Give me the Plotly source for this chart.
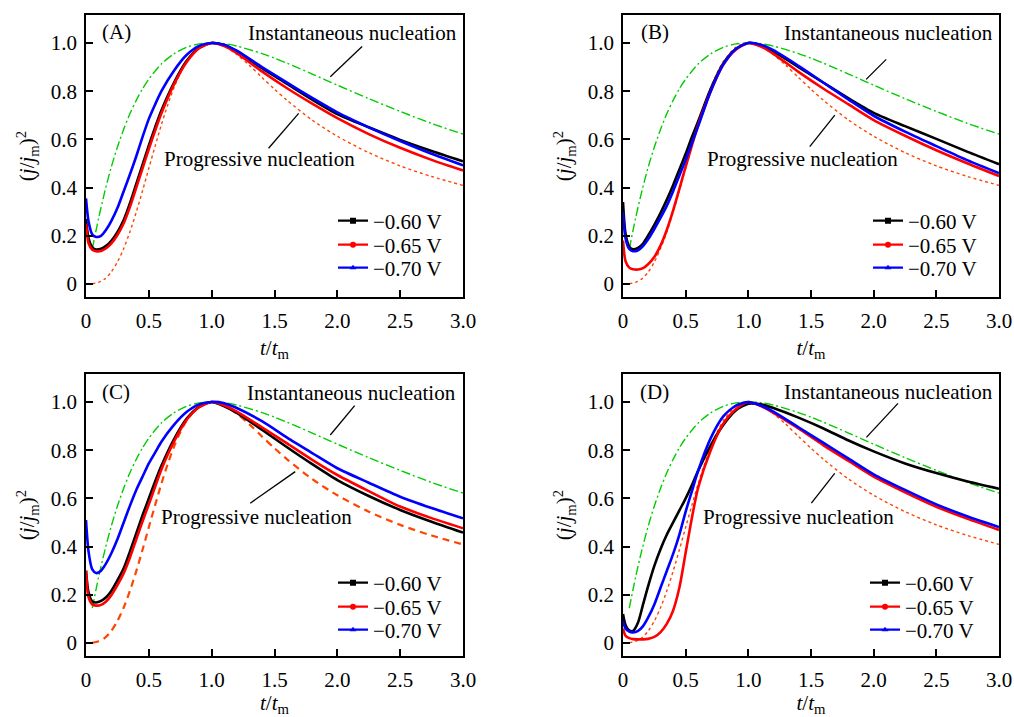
import plotly.graph_objects as go

# ---------------- data ----------------
T = [0, 0.02, 0.05, 0.08, 0.12, 0.16, 0.2, 0.25, 0.3, 0.35, 0.4, 0.45, 0.5, 0.55,
     0.6, 0.7, 0.8, 0.9, 1.0, 1.1, 1.2, 1.4, 1.6, 1.8, 2.0, 2.25, 2.5, 2.75, 3.0]

A_BLACK = [0.27, 0.19, 0.152, 0.143, 0.146, 0.158, 0.178, 0.215, 0.265, 0.335, 0.415, 0.495, 0.575, 0.65,
           0.72, 0.835, 0.925, 0.98, 1.0, 0.99, 0.965, 0.895, 0.83, 0.765, 0.705, 0.65, 0.598, 0.552, 0.509]
A_RED = [0.25, 0.17, 0.142, 0.136, 0.137, 0.148, 0.167, 0.203, 0.252, 0.32, 0.4, 0.48, 0.56, 0.636,
         0.708, 0.828, 0.92, 0.978, 1.0, 0.987, 0.958, 0.882, 0.812, 0.748, 0.688, 0.622, 0.565, 0.515, 0.471]
A_BLUE = [0.355, 0.26, 0.205, 0.195, 0.2, 0.225, 0.26, 0.315, 0.385, 0.455, 0.53, 0.61, 0.685, 0.745,
          0.8, 0.885, 0.95, 0.988, 1.0, 0.993, 0.968, 0.9, 0.835, 0.772, 0.712, 0.65, 0.593, 0.54, 0.492]

B_BLACK = [0.34, 0.21, 0.155, 0.144, 0.15, 0.168, 0.2, 0.245, 0.295, 0.35, 0.41, 0.475, 0.54, 0.61,
           0.675, 0.81, 0.915, 0.975, 1.0, 0.99, 0.965, 0.9, 0.835, 0.77, 0.71, 0.655, 0.602, 0.548, 0.497]
B_RED = [0.18, 0.095, 0.068, 0.061, 0.06, 0.066, 0.082, 0.112, 0.16, 0.225, 0.305, 0.395, 0.487, 0.575,
         0.66, 0.8, 0.91, 0.972, 1.0, 0.985, 0.955, 0.88, 0.81, 0.745, 0.68, 0.615, 0.555, 0.5, 0.448]
B_BLUE = [0.3, 0.19, 0.145, 0.136, 0.14, 0.157, 0.185, 0.228, 0.275, 0.325, 0.385, 0.45, 0.515, 0.585,
          0.655, 0.8, 0.91, 0.975, 1.0, 0.993, 0.97, 0.905, 0.835, 0.765, 0.698, 0.632, 0.572, 0.513, 0.46]

C_BLACK = [0.3, 0.21, 0.172, 0.168, 0.175, 0.19, 0.215, 0.26, 0.31, 0.38, 0.455, 0.53, 0.6, 0.67,
           0.735, 0.845, 0.93, 0.98, 1.0, 0.982, 0.955, 0.885, 0.812, 0.742, 0.676, 0.61, 0.552, 0.503, 0.458]
C_RED = [0.3, 0.19, 0.16, 0.155, 0.158, 0.172, 0.197, 0.24, 0.29, 0.355, 0.43, 0.505, 0.575, 0.648,
         0.72, 0.835, 0.925, 0.978, 1.0, 0.985, 0.96, 0.895, 0.828, 0.76, 0.697, 0.63, 0.566, 0.518, 0.476]
C_BLUE = [0.51, 0.38, 0.305, 0.29, 0.3, 0.33, 0.37, 0.43, 0.5, 0.57, 0.635, 0.69, 0.745, 0.79,
          0.835, 0.905, 0.958, 0.99, 1.0, 0.995, 0.975, 0.92, 0.852, 0.788, 0.725, 0.665, 0.607, 0.56, 0.517]

D_BLACK = [0.12, 0.075, 0.052, 0.05, 0.085, 0.16, 0.235, 0.32, 0.39, 0.45, 0.5, 0.55, 0.6, 0.655,
           0.715, 0.82, 0.905, 0.965, 0.993, 0.99, 0.975, 0.935, 0.89, 0.84, 0.795, 0.745, 0.705, 0.67, 0.64]
D_RED = [0.06, 0.03, 0.02, 0.016, 0.015, 0.015, 0.017, 0.025, 0.045, 0.08, 0.135, 0.23, 0.375, 0.52,
         0.645, 0.8, 0.91, 0.97, 1.0, 0.983, 0.955, 0.89, 0.82, 0.755, 0.69, 0.625, 0.565, 0.515, 0.469]
D_BLUE = [0.09, 0.06, 0.047, 0.044, 0.05, 0.07, 0.105, 0.16, 0.23, 0.3, 0.37, 0.45, 0.545, 0.63,
          0.715, 0.85, 0.94, 0.985, 1.0, 0.985, 0.96, 0.895, 0.83, 0.765, 0.7, 0.635, 0.575, 0.525, 0.481]

T_INST = [0.05, 0.1, 0.15, 0.2, 0.25, 0.3, 0.35, 0.4, 0.45, 0.5, 0.6, 0.7, 0.8, 0.9, 1.0,
          1.1, 1.2, 1.4, 1.5, 1.6, 1.8, 2.0, 2.25, 2.5, 2.75, 3.0]
V_INST = [0.145, 0.272, 0.384, 0.483, 0.568, 0.642, 0.707, 0.762, 0.810, 0.850, 0.913, 0.955, 0.982, 0.996, 1.0,
          0.997, 0.987, 0.956, 0.937, 0.916, 0.871, 0.825, 0.769, 0.716, 0.666, 0.622]
T_PROG = [0.05, 0.1, 0.15, 0.2, 0.25, 0.3, 0.35, 0.4, 0.45, 0.5, 0.55, 0.6, 0.65, 0.7, 0.75, 0.8, 0.9, 1.0,
          1.1, 1.2, 1.3, 1.4, 1.5, 1.6, 1.8, 2.0, 2.25, 2.5, 2.75, 3.0]
V_PROG = [0.001, 0.007, 0.021, 0.049, 0.091, 0.147, 0.217, 0.298, 0.387, 0.480, 0.572, 0.661, 0.742, 0.814, 0.874,
          0.922, 0.982, 1.0, 0.986, 0.952, 0.907, 0.857, 0.808, 0.762, 0.680, 0.613, 0.545, 0.490, 0.446, 0.409]

SERIES_NAMES = ["\u22120.60 V", "\u22120.65 V", "\u22120.70 V"]
PANEL_LABELS = ["(A)", "(B)", "(C)", "(D)"]
X_TICKS = [0, 0.5, 1.0, 1.5, 2.0, 2.5, 3.0]
X_TICKTEXT = ["0", "0.5", "1.0", "1.5", "2.0", "2.5", "3.0"]
Y_TICKS = [0, 0.2, 0.4, 0.6, 0.8, 1.0]
Y_TICKTEXT = ["0", "0.2", "0.4", "0.6", "0.8", "1.0"]

PANEL_DATA = [(A_BLACK, A_RED, A_BLUE), (B_BLACK, B_RED, B_BLUE),
              (C_BLACK, C_RED, C_BLUE), (D_BLACK, D_RED, D_BLUE)]

# ---------------- styling / layout ----------------
FONT = "Times New Roman, Liberation Serif, Times, DejaVu Serif, serif"
W, H = 1014, 717
COLORS = ["#000000", "#ff0000", "#0000ff"]
SYMBOLS = ["square", "circle", "triangle-up"]
GREEN = "#00cc00"
ORANGE = "#ff4500"

XDOM = [[86 / W, 463 / W], [623 / W, 999 / W], [86 / W, 463 / W], [623 / W, 999 / W]]
YDOM = [[1 - 297 / H, 1 - 15 / H], [1 - 297 / H, 1 - 15 / H],
        [1 - 656 / H, 1 - 374 / H], [1 - 656 / H, 1 - 374 / H]]

# annotation placements (data coords): inst text, inst line, prog text, prog line, label
ANNOT = [
    ((2.12, 1.04), (2.197, 0.985, 1.944, 0.860), (1.384, 0.519), (1.692, 0.708, 1.453, 0.563), (0.24, 1.047)),
    ((2.12, 1.04), (2.10, 0.932, 1.94, 0.849), (1.43, 0.519), (1.69, 0.701, 1.49, 0.57), (0.255, 1.047)),
    ((2.115, 1.036), (2.138, 0.985, 1.944, 0.863), (1.353, 0.524), (1.665, 0.711, 1.307, 0.58), (0.235, 1.040)),
    ((2.12, 1.04), (2.194, 0.994, 1.942, 0.853), (1.40, 0.524), (1.689, 0.704, 1.503, 0.58), (0.25, 1.040)),
]
# legend placements in pixels (left x, row centre y's)
LEG_X = [333, 868, 333, 865]
LEG_ROWS = [[221, 245, 268], [221, 245, 268], [583, 607, 630], [583, 607, 630]]

fig = go.Figure()
layout = dict(
    width=W, height=H, margin=dict(l=0, r=0, t=0, b=0, autoexpand=False),
    paper_bgcolor="white", plot_bgcolor="white",
    font=dict(family=FONT, size=21, color="black"),
    showlegend=True,
)
annotations = []
shapes = []

for p in range(4):
    sfx = "" if p == 0 else str(p + 1)
    xa, ya = "x" + sfx, "y" + sfx
    axis_common = dict(showline=True, mirror=True, linecolor="black", linewidth=1.6,
                       ticks="inside", ticklen=7, tickwidth=1.5, tickcolor="black",
                       showgrid=False, zeroline=False, automargin=False,
                       tickfont=dict(family=FONT, size=21, color="black"))
    layout["xaxis" + sfx] = dict(axis_common, domain=XDOM[p], range=[0, 3.0], anchor=ya,
                                 tickvals=X_TICKS, ticktext=X_TICKTEXT, ticklabelstandoff=4,
                                 title=dict(text="<i>t</i>/<i>t</i><sub>m</sub>", standoff=8,
                                            font=dict(family=FONT, size=21)))
    layout["yaxis" + sfx] = dict(axis_common, domain=YDOM[p], range=[-0.054, 1.116], anchor=xa,
                                 tickvals=Y_TICKS, ticktext=Y_TICKTEXT, ticklabelstandoff=3,
                                 title=dict(text="(<i>j</i>/<i>j</i><sub>m</sub>)<sup>2</sup>", standoff=10,
                                            font=dict(family=FONT, size=21)))

    # theoretical curves
    fig.add_trace(go.Scatter(x=T_INST, y=V_INST, mode="lines", xaxis=xa, yaxis=ya, showlegend=False,
                             line=dict(color=GREEN, width=1.4, dash="9px,3px,2px,3px", shape="spline",
                                       smoothing=0.8)))
    if p == 2:
        prog_line = dict(color=ORANGE, width=2.2, dash="7px,5px", shape="spline", smoothing=0.8)
    else:
        prog_line = dict(color=ORANGE, width=1.4, dash="3px,3px", shape="spline", smoothing=0.8)
    fig.add_trace(go.Scatter(x=T_PROG, y=V_PROG, mode="lines", xaxis=xa, yaxis=ya, showlegend=False,
                             line=prog_line))

    # experimental curves
    for k, vals in enumerate(PANEL_DATA[p]):
        fig.add_trace(go.Scatter(x=T, y=vals, mode="lines", xaxis=xa, yaxis=ya, showlegend=False,
                                 line=dict(color=COLORS[k], width=2.6, shape="spline", smoothing=0.7)))

    # legend entries (one legend per row so spacing matches)
    for k in range(3):
        lid = 3 * p + k + 1
        lname = "legend" if lid == 1 else "legend%d" % lid
        fig.add_trace(go.Scatter(x=[None], y=[None], mode="lines+markers", name=SERIES_NAMES[k],
                                 xaxis=xa, yaxis=ya, legend=lname,
                                 line=dict(color=COLORS[k], width=2.2),
                                 marker=dict(color=COLORS[k], symbol=SYMBOLS[k], size=6)))
        layout[lname] = dict(x=LEG_X[p] / W, y=1 - LEG_ROWS[p][k] / H, xanchor="left", yanchor="middle",
                             bgcolor="rgba(0,0,0,0)", borderwidth=0,
                             font=dict(family=FONT, size=21, color="black"),
                             itemwidth=30, tracegroupgap=0)

    inst_t, inst_l, prog_t, prog_l, lab = ANNOT[p]
    annotations.append(dict(x=inst_t[0], y=inst_t[1], xref=xa, yref=ya, text="Instantaneous nucleation",
                            showarrow=False, font=dict(family=FONT, size=21, color="black")))
    annotations.append(dict(x=prog_t[0], y=prog_t[1], xref=xa, yref=ya, text="Progressive nucleation",
                            showarrow=False, font=dict(family=FONT, size=21, color="black")))
    annotations.append(dict(x=lab[0], y=lab[1], xref=xa, yref=ya, text=PANEL_LABELS[p],
                            showarrow=False, font=dict(family=FONT, size=21, color="black")))
    for ln in (inst_l, prog_l):
        shapes.append(dict(type="line", xref=xa, yref=ya, x0=ln[0], y0=ln[1], x1=ln[2], y1=ln[3],
                           line=dict(color="black", width=1.3)))

layout["annotations"] = annotations
layout["shapes"] = shapes
fig.update_layout(**layout)
fig.write_html("out.html", config={"displayModeBar": False},
               post_script="document.body.style.margin='0';document.body.style.padding='0';")
